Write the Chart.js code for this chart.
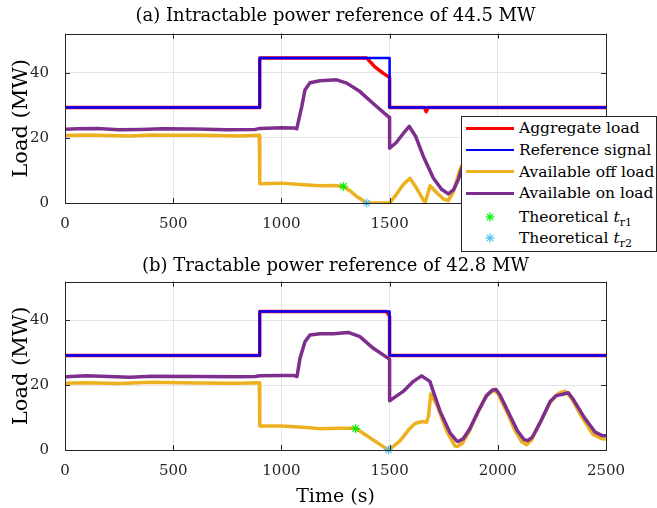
<!DOCTYPE html>
<html>
<head>
<meta charset="utf-8">
<script src="https://cdn.jsdelivr.net/npm/chart.js@4.4.1/dist/chart.umd.min.js"></script>
<style>
body { margin: 0; background: #fff; }
#wrap { position: relative; width: 657px; height: 508px; overflow: hidden; }
#wrap canvas { position: absolute; left: 0; }
#legend { position: absolute; left: 461px; top: 116px; width: 196px; height: 136px; box-sizing: border-box;
  border: 1px solid #262626; background: #fff; font-family: "DejaVu Serif"; font-size: 15.5px; color: #000; }
#legend .row { position: absolute; left: 0; height: 22px; line-height: 22px; white-space: nowrap; }
#legend .txt { position: absolute; left: 57px; top: 0; }
#legend .ln { position: absolute; left: 4px; width: 48px; top: 11px; }
#legend svg { position: absolute; left: 23px; top: 6px; }
#legend sub { font-size: 11px; vertical-align: -4px; line-height: 0; }
</style>
</head>
<body>
<div id="wrap">
  <canvas id="chartA" width="657" height="254" style="top:0"></canvas>
  <canvas id="chartB" width="657" height="254" style="top:254px"></canvas>
  <div id="legend"></div>
</div>
<script>
// axis ticks
var xTicks = [0, 500, 1000, 1500, 2000, 2500];
var yTicks = [0, 20, 40];
var yMax = 52;

// ---- (a) intractable reference of 44.5 MW ----
var refTimeA = [0, 900, 900, 1500, 1500, 2500];
var refLoadA = [29.3, 29.3, 44.5, 44.5, 29.3, 29.3];

var aggTimeA = [0, 900, 900, 1394, 1432, 1471, 1494, 1500, 1500, 1662, 1669, 1672, 1678, 2500];
var aggLoadA = [29.3, 29.3, 44.5, 44.5, 41.8, 39.8, 38.8, 38.6, 29.3, 29.3, 28.0, 28.0, 29.3, 29.3];

var offTimeA = [0, 100, 200, 300, 400, 500, 600, 700, 800, 898, 900, 1000, 1100, 1178, 1240, 1286, 1320, 1348, 1394, 1500, 1530, 1565, 1594, 1625, 1664, 1687, 1720, 1750, 1771, 1795, 1825, 1850];
var offLoadA = [20.7, 20.9, 20.7, 20.6, 20.9, 20.8, 20.8, 20.7, 20.6, 20.8, 5.9, 6.1, 5.6, 5.3, 5.4, 5.1, 3.6, 2.0, 0, 0, 2.5, 5.8, 7.6, 4.5, 0, 5.3, 3.0, 1.2, 0.7, 3.5, 10.2, 14];

var onTimeA = [0, 60, 150, 250, 350, 450, 600, 750, 880, 900, 1000, 1060, 1071, 1094, 1109, 1132, 1178, 1255, 1302, 1363, 1440, 1494, 1500, 1500, 1530, 1565, 1591, 1620, 1656, 1702, 1740, 1771, 1795, 1817, 1850];
var onLoadA = [22.6, 22.8, 22.9, 22.5, 22.6, 22.8, 22.7, 22.5, 22.6, 22.9, 23.1, 23.0, 22.8, 29.6, 34.7, 36.9, 37.5, 37.8, 36.8, 34.2, 29.6, 26.5, 26.3, 16.8, 18.5, 21.5, 23.5, 20.5, 14.3, 7.7, 4.2, 2.8, 4.0, 7.1, 14];

var tr1TimeA = [1286], tr1LoadA = [5.1];
var tr2TimeA = [1394], tr2LoadA = [0];

// ---- (b) tractable reference of 42.8 MW ----
var refTimeB = [0, 900, 900, 1500, 1500, 2500];
var refLoadB = [29.2, 29.2, 42.8, 42.8, 29.2, 29.2];

var aggTimeB = [0, 900, 900, 1485, 1497, 1500, 1500, 2500];
var aggLoadB = [29.2, 29.2, 42.8, 42.8, 41.6, 41.3, 29.2, 29.2];

var offTimeB = [0, 100, 250, 400, 600, 800, 898, 900, 1000, 1100, 1178, 1260, 1343, 1409, 1460, 1494, 1520, 1548, 1585, 1617, 1650, 1671, 1680, 1690, 1718, 1764, 1802, 1813, 1835, 1870, 1910, 1945, 1980, 2000, 2040, 2080, 2110, 2133, 2155, 2195, 2240, 2280, 2310, 2340, 2390, 2440, 2480, 2500];
var offLoadB = [20.6, 20.8, 20.5, 20.9, 20.7, 20.6, 20.8, 7.4, 7.4, 7.0, 6.6, 6.7, 6.7, 3.8, 1.5, 0, 1.3, 2.8, 6.0, 8.2, 8.8, 8.6, 10.5, 17.3, 14.0, 5.8, 1.2, 1.1, 2.0, 6.0, 12.0, 16.5, 18.5, 17.5, 12.0, 6.0, 2.6, 1.6, 3.0, 8.5, 14.5, 17.5, 18.2, 16.0, 10.0, 4.8, 3.5, 3.4];

var onTimeB = [0, 100, 200, 300, 400, 600, 800, 880, 900, 1000, 1060, 1072, 1086, 1109, 1132, 1178, 1240, 1309, 1363, 1425, 1494, 1500, 1500, 1563, 1610, 1648, 1686, 1733, 1779, 1810, 1817, 1840, 1870, 1910, 1950, 1975, 1992, 2010, 2050, 2090, 2120, 2138, 2160, 2200, 2242, 2270, 2300, 2326, 2350, 2400, 2450, 2480, 2500];
var onLoadB = [22.6, 22.9, 22.7, 22.5, 22.8, 22.7, 22.6, 22.7, 22.9, 23.0, 23.0, 22.7, 28.3, 33.4, 35.5, 35.9, 35.9, 36.3, 35.0, 31.4, 28.3, 28.0, 15.2, 18.1, 21.2, 22.9, 21.2, 12.0, 5.3, 2.8, 2.6, 3.5, 6.5, 12.0, 17.0, 18.5, 18.7, 17.0, 11.5, 6.0, 3.3, 2.9, 4.0, 9.0, 15.0, 16.8, 17.2, 17.7, 15.5, 10.0, 5.5, 4.5, 4.4];

var tr1TimeB = [1343], tr1LoadB = [6.6];
var tr2TimeB = [1495], tr2LoadB = [0];

// colours
var cAgg = '#ff0000', cRef = '#0000ff', cOff = '#edb120', cOn = '#7e2f8e', cTr1 = '#00ee00', cTr2 = '#4dbeee';
var axisCol = '#262626';
var serif = '"DejaVu Serif", serif';

function pts(t, v) {
    return t.map(function (x, i) { return {x: x, y: v[i]}; });
}

function lineSet(label, t, v, col, w, ord) {
    return {label: label, data: pts(t, v), borderColor: col, backgroundColor: col, borderWidth: w,
        pointRadius: 0, tension: 0, fill: false, order: ord, borderJoinStyle: 'round'};
}

function starSet(label, t, v, col, ord) {
    return {label: label, data: pts(t, v), showLine: false, pointStyle: 'star', pointRadius: 4.5,
        borderColor: col, backgroundColor: col, pointBorderWidth: 1.2, clip: false, order: ord};
}

// box round the axes with inward tick marks, like the original figure
var boxPlugin = {
    id: 'box',
    afterDatasetsDraw: function (chart) {
        var ctx = chart.ctx, a = chart.chartArea, sx = chart.scales.x, sy = chart.scales.y;
        ctx.save();
        ctx.strokeStyle = axisCol;
        ctx.lineWidth = 1;
        ctx.beginPath();
        xTicks.forEach(function (v) {
            var px = Math.round(sx.getPixelForValue(v)) + 0.5;
            ctx.moveTo(px, a.bottom); ctx.lineTo(px, a.bottom - 5);
            ctx.moveTo(px, a.top); ctx.lineTo(px, a.top + 5);
        });
        yTicks.forEach(function (v) {
            var py = Math.round(sy.getPixelForValue(v)) + 0.5;
            ctx.moveTo(a.left, py); ctx.lineTo(a.left + 5, py);
            ctx.moveTo(a.right, py); ctx.lineTo(a.right - 5, py);
        });
        ctx.stroke();
        ctx.strokeRect(Math.round(a.left) + 0.5, Math.round(a.top) + 0.5,
            Math.round(a.right - a.left), Math.round(a.bottom - a.top));
        ctx.restore();
    }
};

function makeChart(id, title, titlePad, xHeight, showXTitle, sets) {
    return new Chart(document.getElementById(id), {
        type: 'line',
        data: {datasets: sets},
        plugins: [boxPlugin],
        options: {
            responsive: false,
            animation: false,
            events: [],
            layout: {padding: {left: 0, right: 51, top: 0, bottom: 0}},
            plugins: {
                legend: {display: false},
                tooltip: {enabled: false},
                title: {display: true, text: title, color: '#000', padding: titlePad, fullSize: false,
                    font: {family: serif, size: 18, weight: 'normal'}}
            },
            scales: {
                x: {
                    type: 'linear', min: xTicks[0], max: xTicks[xTicks.length - 1],
                    afterFit: function (s) { s.height = xHeight; },
                    ticks: {stepSize: 500, color: axisCol, padding: 12, maxRotation: 0,
                        font: {family: serif, size: 15},
                        callback: function (v) { return String(v); }},
                    grid: {color: '#e4e4e4', drawTicks: false},
                    border: {display: false},
                    title: {display: showXTitle, text: 'Time (s)', color: '#000', padding: {top: 0, bottom: 0},
                        font: {family: serif, size: 19}}
                },
                y: {
                    min: 0, max: yMax,
                    afterFit: function (s) { s.width = 65; },
                    ticks: {stepSize: 20, includeBounds: false, color: axisCol, padding: 16,
                        font: {family: serif, size: 15}},
                    grid: {color: '#e4e4e4', drawTicks: false},
                    border: {display: false},
                    title: {display: true, text: 'Load (MW)', color: '#000', padding: {top: 9, bottom: 0},
                        font: {family: serif, size: 21}}
                }
            }
        }
    });
}

makeChart('chartA', '(a) Intractable power reference of 44.5 MW', {top: 6, bottom: 6}, 51, false, [
    lineSet('Aggregate load', aggTimeA, aggLoadA, cAgg, 3.5, 5),
    lineSet('Reference signal', refTimeA, refLoadA, cRef, 2.5, 4),
    lineSet('Available off load', offTimeA, offLoadA, cOff, 3.5, 3),
    lineSet('Available on load', onTimeA, onLoadA, cOn, 3.5, 2),
    starSet('Theoretical tr1', tr1TimeA, tr1LoadA, cTr1, 1),
    starSet('Theoretical tr2', tr2TimeA, tr2LoadA, cTr2, 0)
]);

makeChart('chartB', '(b) Tractable power reference of 42.8 MW', {top: 2, bottom: 4}, 58, true, [
    lineSet('Aggregate load', aggTimeB, aggLoadB, cAgg, 3.5, 5),
    lineSet('Reference signal', refTimeB, refLoadB, cRef, 2.5, 4),
    lineSet('Available off load', offTimeB, offLoadB, cOff, 3.5, 3),
    lineSet('Available on load', onTimeB, onLoadB, cOn, 3.5, 2),
    starSet('Theoretical tr1', tr1TimeB, tr1LoadB, cTr1, 1),
    starSet('Theoretical tr2', tr2TimeB, tr2LoadB, cTr2, 0)
]);

// legend (sits over the upper panel like in the figure)
var legendItems = [
    {kind: 'line', col: cAgg, w: 3.5, html: 'Aggregate load'},
    {kind: 'line', col: cRef, w: 2, html: 'Reference signal'},
    {kind: 'line', col: cOff, w: 3.5, html: 'Available off load'},
    {kind: 'line', col: cOn, w: 3.5, html: 'Available on load'},
    {kind: 'star', col: cTr1, html: 'Theoretical <i>t</i><sub>r1</sub>'},
    {kind: 'star', col: cTr2, html: 'Theoretical <i>t</i><sub>r2</sub>'}
];
var rowCentres = [11.3, 33, 54.7, 76.3, 99.7, 121.3];
var legend = document.getElementById('legend');
legendItems.forEach(function (it, i) {
    var row = document.createElement('div');
    row.className = 'row';
    row.style.top = (rowCentres[i] - 11) + 'px';
    row.style.width = '100%';
    var mark = '';
    if (it.kind === 'line') {
        mark = '<div class="ln" style="height:' + it.w + 'px;margin-top:' + (-it.w / 2) + 'px;background:' + it.col + '"></div>';
    } else {
        mark = '<svg width="10" height="10" viewBox="-5 -5 10 10"><g stroke="' + it.col + '" stroke-width="1.2">' +
            '<line x1="-4.5" y1="0" x2="4.5" y2="0"/><line x1="0" y1="-4.5" x2="0" y2="4.5"/>' +
            '<line x1="-3.2" y1="-3.2" x2="3.2" y2="3.2"/><line x1="-3.2" y1="3.2" x2="3.2" y2="-3.2"/></g></svg>';
    }
    row.innerHTML = mark + '<span class="txt">' + it.html + '</span>';
    legend.appendChild(row);
});
</script>
</body>
</html>
